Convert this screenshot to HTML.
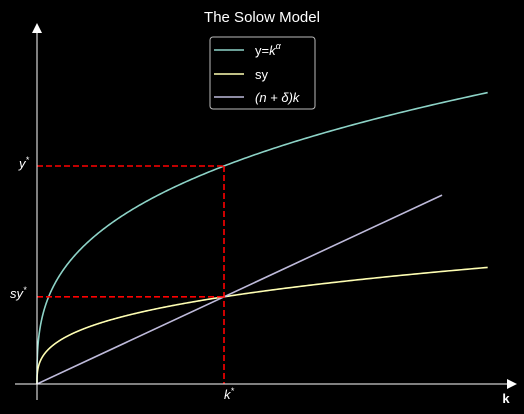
<!DOCTYPE html>
<html><head><meta charset="utf-8"><style>
body{margin:0;background:#000;}
svg{display:block;font-family:"Liberation Sans","DejaVu Sans",sans-serif;}
</style></head><body>
<svg id="c" width="524" height="414" viewBox="0 0 524 414">
<rect width="524" height="414" fill="#000"/>
<text x="262" y="22" fill="#fff" font-size="15" text-anchor="middle">The Solow Model</text>
<g id="plot"></g>
<line x1="15" y1="384" x2="508" y2="384" stroke="#fff" stroke-width="1"/>
<polygon points="517,384 507,379 507,389" fill="#fff"/>
<line x1="37" y1="400" x2="37" y2="32" stroke="#fff" stroke-width="1"/>
<polygon points="37,23 32,33 42,33" fill="#fff"/>
<text x="506" y="403" fill="#fff" font-size="13" font-weight="bold" text-anchor="middle">k</text>
<g>
<rect x="210" y="37" width="105" height="72" rx="3" fill="#000" stroke="#bbb" stroke-width="1"/>
<line x1="214" y1="50" x2="244" y2="50" stroke="#8dd3c7" stroke-width="1.6"/>
<text x="255" y="55" fill="#fff" font-size="13">y=<tspan font-style="italic">k</tspan><tspan font-size="9" dy="-6" font-style="italic">α</tspan></text>
<line x1="214" y1="74" x2="244" y2="74" stroke="#ffffb3" stroke-width="1.6"/>
<text x="255" y="79" fill="#fff" font-size="13">sy</text>
<line x1="214" y1="97" x2="244" y2="97" stroke="#bebada" stroke-width="1.6"/>
<text x="255" y="102" fill="#fff" font-size="13" font-style="italic">(n + δ)k</text>
</g>
</svg>
<script>
const alphaParam = [0.33];
const savingsRate = [0.4];
const nDelta = [0.4];
const kMax = [2.41];
const kLineMax = [2.166];
const kStar = [1];

const X0=37, Y0=384, SX=187, SY=218;
const px=k=>X0+k*SX, py=v=>Y0-v*SY;
const NS="http://www.w3.org/2000/svg";
const g=document.getElementById('plot');
function path(pts,color,name){
  const p=document.createElementNS(NS,'path');
  p.setAttribute('d','M'+pts.map(q=>px(q[0]).toFixed(2)+','+py(q[1]).toFixed(2)).join('L'));
  p.setAttribute('fill','none');p.setAttribute('stroke',color);p.setAttribute('stroke-width','1.6');
  
  
  g.appendChild(p);
}
const a=alphaParam[0], s=savingsRate[0], nd=nDelta[0];
const ks=[];for(let i=0;i<=400;i++){ks.push(kMax[0]*Math.pow(i/400,3));}
path(ks.map(k=>[k,Math.pow(k,a)]),'#8dd3c7','output-curve');
path(ks.map(k=>[k,s*Math.pow(k,a)]),'#ffffb3','savings-curve');
path([[0,0],[kLineMax[0],nd*kLineMax[0]]],'#bebada','depreciation-line');
const ks0=kStar[0], ys=Math.pow(ks0,a), sys=s*ys;
function dash(x1,y1,x2,y2,name){
  const l=document.createElementNS(NS,'line');
  l.setAttribute('x1',x1);l.setAttribute('y1',y1);l.setAttribute('x2',x2);l.setAttribute('y2',y2);
  l.setAttribute('stroke','#ff0000');l.setAttribute('stroke-width','1.6');l.setAttribute('stroke-dasharray','6,3');
  
  
  g.appendChild(l);
}
dash(px(0),py(ys),px(ks0),py(ys),'y-star-guide');
dash(px(0),py(sys),px(ks0),py(sys),'sy-star-guide');
dash(px(ks0),py(ys),px(ks0),Y0,'k-star-guide');
function lab(x,y,t,name,anchor){
  const e=document.createElementNS(NS,'text');
  e.setAttribute('x',x);e.setAttribute('y',y);e.setAttribute('fill','#fff');e.setAttribute('font-size','13');
  e.setAttribute('font-style','italic');e.setAttribute('text-anchor',anchor||'start');
  e.innerHTML=t;
  
  
  g.appendChild(e);
}
lab(19,py(ys)+2,'y<tspan font-size="9" dy="-5">*</tspan>','y-star-label');
lab(10,py(sys)+1,'sy<tspan font-size="9" dy="-5">*</tspan>','sy-star-label');
lab(px(ks0),399,'k<tspan font-size="9" dy="-5">*</tspan>','k-star-label');
</script>
</body></html>
